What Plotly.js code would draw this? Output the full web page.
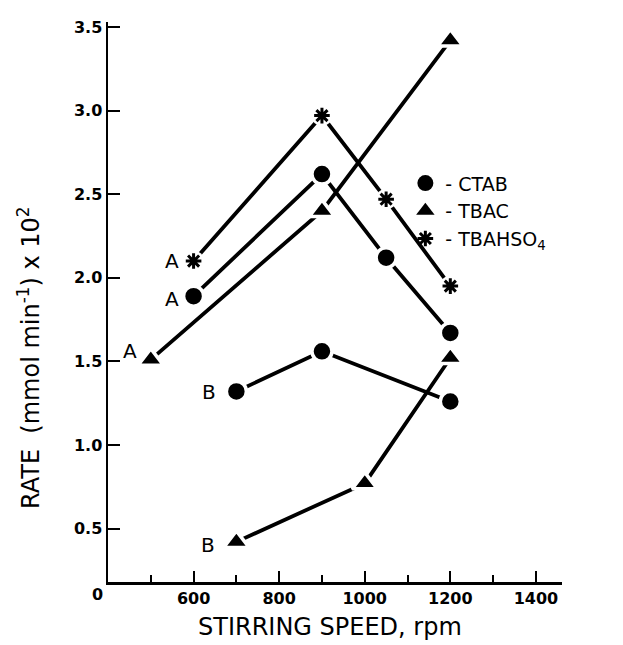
<!DOCTYPE html>
<html>
<head>
<meta charset="utf-8">
<script src="https://cdn.plot.ly/plotly-3.0.1.min.js"></script>
<style>html,body{margin:0;padding:0;background:#fff;}#chart{width:623px;height:645px;}</style>
</head>
<body>
<div id="chart"></div>
<script>
// Stirring speed (rpm) and rate (mmol/min x 10^2)
const ctabA_x = [600, 900, 1050, 1200];
const ctabA_y = [1.89, 2.62, 2.12, 1.67];
const ctabB_x = [700, 900, 1200];
const ctabB_y = [1.32, 1.56, 1.26];
const tbacA_x = [500, 900, 1200];
const tbacA_y = [1.51, 2.40, 3.42];
const tbacB_x = [700, 1000, 1200];
const tbacB_y = [0.42, 0.77, 1.52];
const tbahA_x = [600, 900, 1050, 1200];
const tbahA_y = [2.10, 2.97, 2.47, 1.95];

const legendNames = ['- CTAB', '- TBAC', '- TBAHSO<sub>4</sub>'];
const xTicks = [600, 800, 1000, 1200, 1400];
const yTicks = [0.5, 1.0, 1.5, 2.0, 2.5, 3.0, 3.5];
const yTickText = ['0.5', '1.0', '1.5', '2.0', '2.5', '3.0', '3.5'];

const FONT = 'DejaVu Sans, Arial, sans-serif';
const LW = 3.8;

function lineTrace(x, y) {
  return {x: x, y: y, mode: 'lines', type: 'scatter', showlegend: false,
          line: {color: '#000', width: LW}, hoverinfo: 'skip'};
}
function markTrace(x, y, sym, size) {
  return {x: x, y: y, mode: 'markers', type: 'scatter', showlegend: false,
          marker: {symbol: sym, size: size, color: '#000', line: {color: '#fff', width: 3.5}}};
}
function legendTrace(name, sym, opts) {
  return Object.assign({x: [null], y: [null], mode: 'markers', type: 'scatter', name: name, showlegend: true,
          marker: {symbol: sym, size: 16, color: '#000', line: {width: 0}}}, opts || {});
}

const traces = [
  lineTrace(ctabA_x, ctabA_y), lineTrace(ctabB_x, ctabB_y),
  lineTrace(tbacA_x, tbacA_y), lineTrace(tbacB_x, tbacB_y),
  lineTrace(tbahA_x, tbahA_y),
  markTrace(ctabA_x, ctabA_y, 'circle', 20),
  markTrace(tbacA_x, tbacA_y, 'triangle-up', 22),
  // white halo under asterisks
  {x: tbahA_x, y: tbahA_y, mode: 'markers', type: 'scatter', showlegend: false,
   marker: {symbol: 'circle', size: 21, color: '#fff'}, hoverinfo: 'skip'},
  {x: tbahA_x, y: tbahA_y, mode: 'markers', type: 'scatter', showlegend: false,
   marker: {symbol: 'asterisk-open', size: 13, color: '#000', line: {color: '#000', width: 3}}},
  markTrace(ctabB_x, ctabB_y, 'circle', 20),
  markTrace(tbacB_x, tbacB_y, 'triangle-up', 22),
  legendTrace(legendNames[0], 'circle'),
  legendTrace(legendNames[1], 'triangle-up'),
  legendTrace(legendNames[2], 'asterisk-open', {marker: {symbol: 'asterisk-open', size: 13, color: '#000', line: {color: '#000', width: 3}}})
];

function lbl(text, x, y, xs, ys) {
  return {text: text, x: x, y: y, xref: 'x', yref: 'y', showarrow: false,
          xshift: xs, yshift: ys, font: {family: FONT, size: 20, color: '#000'}};
}

const layout = {
  width: 623, height: 645,
  margin: {l: 108, r: 61, t: 22, b: 63},
  paper_bgcolor: '#fff', plot_bgcolor: '#fff',
  font: {family: FONT, color: '#000'},
  xaxis: {
    range: [400, 1461], showgrid: false, zeroline: false,
    showline: true, linecolor: '#000', linewidth: 2.5,
    tickmode: 'array', tickvals: xTicks,
    ticks: 'inside', ticklen: 11, tickwidth: 2, tickcolor: '#000',
    tickfont: {family: FONT, size: 16, weight: 'bold', color: '#000'},
    minor: {dtick: 100, tick0: 0, ticks: 'inside', ticklen: 7, tickwidth: 2, tickcolor: '#000', showgrid: false}
  },
  yaxis: {
    range: [0.18, 3.53], showgrid: false, zeroline: false,
    showline: true, linecolor: '#000', linewidth: 2.5,
    tickmode: 'array', tickvals: yTicks, ticktext: yTickText,
    ticks: 'inside', ticklen: 12, tickwidth: 2, tickcolor: '#000',
    tickfont: {family: FONT, size: 16, weight: 'bold', color: '#000'}
  },
  showlegend: true,
  legend: {x: 0.655, xanchor: 'left', y: 0.746, yanchor: 'top',
           bgcolor: 'rgba(0,0,0,0)', font: {family: FONT, size: 19, color: '#000'},
           tracegroupgap: 0, itemwidth: 30},
  annotations: [
    lbl('A', tbahA_x[0], tbahA_y[0], -22, 0),
    lbl('A', ctabA_x[0], ctabA_y[0], -22, -3),
    lbl('A', tbacA_x[0], tbacA_y[0], -21, 9),
    lbl('B', ctabB_x[0], ctabB_y[0], -27, -1),
    lbl('B', tbacB_x[0], tbacB_y[0], -28, -3),
    {text: '0', xref: 'paper', yref: 'paper', x: 0, y: 0, xanchor: 'center', yanchor: 'top',
     xshift: -11, yshift: -1, showarrow: false, font: {family: FONT, size: 16, weight: 'bold', color: '#000'}},
    {text: 'STIRRING SPEED, rpm', xref: 'paper', yref: 'paper', x: 0.49, y: 0, yanchor: 'middle',
     yshift: -45, showarrow: false, font: {family: FONT, size: 24, color: '#000'}},
    {text: 'RATE  (mmol min<sup>-1</sup>) x 10<sup>2</sup>', xref: 'paper', yref: 'paper',
     x: 0, y: 0.4, xanchor: 'center', yanchor: 'middle', xshift: -79, textangle: -90,
     showarrow: false, font: {family: FONT, size: 24, color: '#000'}}
  ]
};

Plotly.newPlot('chart', traces, layout, {displayModeBar: false, staticPlot: true});
</script>
</body>
</html>
